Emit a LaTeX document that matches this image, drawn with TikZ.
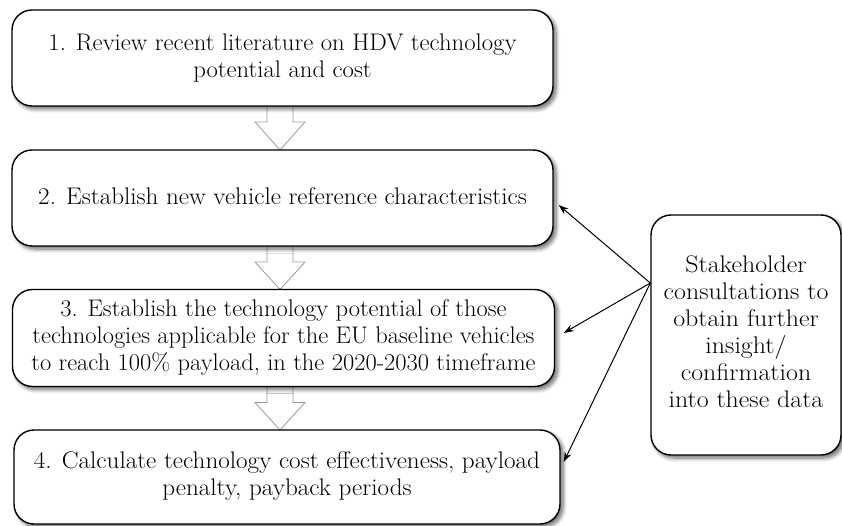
\documentclass[tikz,border=0pt]{standalone}
\usepackage{fontspec}
\setmainfont{Latin Modern Roman}[FakeStretch=1.05]
\newfontfamily\fonta{Latin Modern Roman}[FakeStretch=1.03]
\newfontfamily\fontb{Latin Modern Roman}[FakeStretch=1.046]
\newfontfamily\fontc{Latin Modern Roman}[FakeStretch=1.02]
\newfontfamily\fontd{Latin Modern Roman}[FakeStretch=1.047]
\newfontfamily\fonte{Latin Modern Roman}[FakeStretch=1.08]
\usetikzlibrary{calc,shadows.blur,arrows.meta}
\begin{document}
\begin{tikzpicture}[x=1pt,y=-1pt,
  stepbox/.style={draw=black,line width=1.4pt,rounded corners=20pt,fill=white,
    align=center,inner sep=0pt,
    blur shadow={shadow xshift=3pt,shadow yshift=-3pt,shadow blur steps=8,
      shadow blur radius=4pt,shadow opacity=60}},
  flow/.style={draw=black!40,line width=0.8pt,fill=white},
  link/.style={draw=black,line width=1pt,-{Stealth[length=10pt,width=7pt]}}]
\useasboundingbox (0,0) rectangle (842,526);
% box centres
\coordinate (c1) at (282.5,58);
\coordinate (c2) at (282.5,198);
\coordinate (c3) at (283.5,338);
\coordinate (c4) at (287,477);
% hollow block arrows, drawn under the boxes
\foreach \ya/\yb in {106/150,246/289.5,386.5/430}{
  \draw[flow] (267,\ya) -- (267,\ya+16) -- (255,\ya+16) -- (280,\yb)
     -- (305,\ya+16) -- (293,\ya+16) -- (293,\ya);
}
\node[stepbox,minimum width=541pt,minimum height=96pt,font=\fonta\fontsize{24}{27}\selectfont] (b1) at (c1)
  {1. Review recent literature on HDV technology\\potential and cost};
\node[stepbox,minimum width=541pt,minimum height=96pt,font=\fontb\fontsize{24}{27}\selectfont] (b2) at (c2)
  {\raisebox{3pt}{2. Establish new vehicle reference characteristics}};
\node[stepbox,minimum width=542pt,minimum height=97pt,font=\fontc\fontsize{24}{27}\selectfont] (b3) at (c3)
  {3. Establish the technology potential of those\\technologies applicable for the EU baseline vehicles\\to reach 100\% payload, in the 2020-2030 timeframe};
\node[stepbox,minimum width=546pt,minimum height=94pt,font=\fontd\fontsize{24}{27}\selectfont] (b4) at (c4)
  {\raisebox{4pt}{\begin{tabular}{@{}c@{}}4. Calculate technology cost effectiveness, payload\\penalty, payback periods\end{tabular}}};
\node[stepbox,minimum width=190pt,minimum height=240pt,font=\fonte\fontsize{24}{27}\selectfont] (s) at (746,335)
  {\raisebox{4pt}{\begin{tabular}{@{}c@{}}Stakeholder\\consultations to\\obtain further\\insight/\\confirmation\\into these data\end{tabular}}};
% connectors
\coordinate (src) at ($(s.west)+(0,-52)$);
\draw[link] (src) -- ($(b2.east)+(5,7)$);
\draw[link] (src) -- ($(b3.east)+(8.5,-5)$);
\draw[link] (src) -- ($(b4.east)+(3,-15)$);
\end{tikzpicture}
\end{document}
